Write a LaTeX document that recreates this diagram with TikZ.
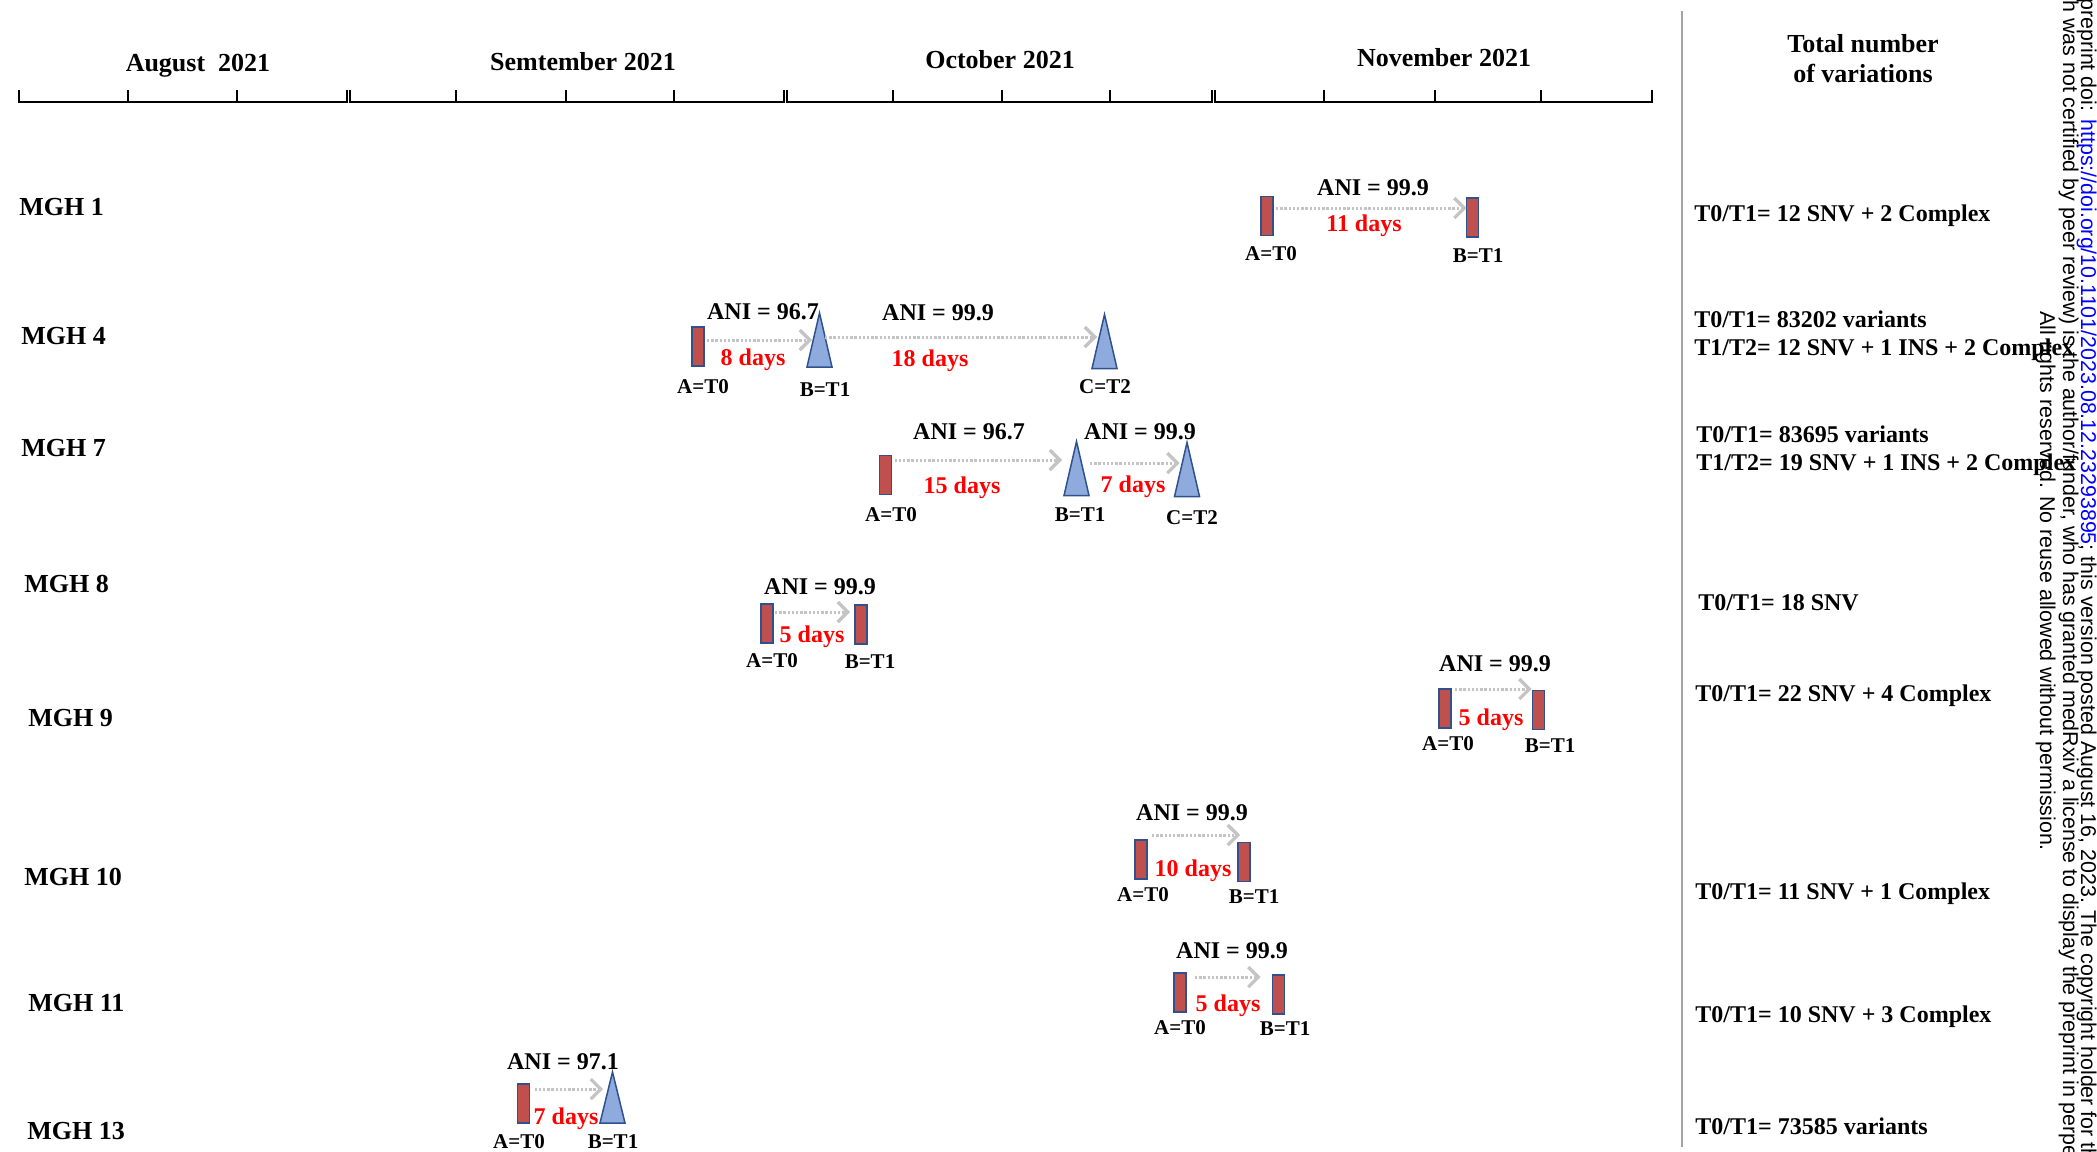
\documentclass[tikz,border=0pt]{standalone}
\usepackage{fontspec}
\setmainfont{Liberation Serif}
\newfontfamily\wmfont{Liberation Sans}
\usetikzlibrary{arrows.meta,calc}
\definecolor{recc}{RGB}{192,80,77}
\definecolor{bordc}{RGB}{47,82,143}
\definecolor{tric}{RGB}{143,170,220}
\definecolor{arrc}{RGB}{196,196,196}
\definecolor{dayred}{RGB}{255,0,0}
\definecolor{sepgray}{RGB}{165,165,165}
\tikzset{
 rec/.style={draw=bordc, fill=recc, line width=0.75pt, minimum width=6pt, minimum height=19.5pt, inner sep=0pt, outer sep=0pt},
 tribox/.style={minimum width=12.5pt, minimum height=27pt, inner sep=0pt, outer sep=0pt},
 trishape/.style={draw=bordc, fill=tric, line width=0.75pt, line join=miter},
 arr/.style={draw=arrc, line width=1.5pt, dash pattern=on 1.2pt off 0.9pt, -{Straight Barb[length=5pt,width=10pt,line width=1.6pt]}},
 ani/.style={font=\fontsize{12}{14}\selectfont\bfseries, inner sep=0pt},
 days/.style={ani, text=dayred},
 tlab/.style={font=\fontsize{10.5}{12}\selectfont\bfseries, inner sep=0pt},
 rowlab/.style={font=\fontsize{13}{15}\selectfont\bfseries, inner sep=0pt, anchor=west},
 month/.style={font=\fontsize{13}{15}\selectfont\bfseries, inner sep=0pt, align=center},
 res/.style={font=\fontsize{12}{14}\selectfont\bfseries, inner sep=0pt, anchor=west, align=left},
 ruler/.style={line width=1.4pt, black},
 tickm/.style={line width=0.6pt, black},
 wm/.style={font=\wmfont\fontsize{10.7}{12}\selectfont, inner sep=0pt, rotate=-90, anchor=base west},
}
\begin{document}
\begin{tikzpicture}[x=0.5pt,y=-0.5pt]
\useasboundingbox (0,0) rectangle (2097,1151);
\fill[white] (0,0) rectangle (2097,1151);
\clip (0,0) rectangle (2097,1151);

% month rulers
\draw[ruler] (19,102) -- (347,102);
\draw[ruler] (350,102) -- (784,102);
\draw[ruler] (787,102) -- (1212,102);
\draw[ruler] (1215,102) -- (1652,102);
\foreach \x in {19,128,237,347,350,456,566,674,784,787,893,1002,1110,1212,1215,1324,1435,1541,1652}
  \draw[tickm] (\x,90) -- (\x,102.5);

\node[month] (mAug) at (198,66) {August\ \ 2021};
\node[month] (mSep) at (583,62) {Semtember 2021};
\node[month] (mOct) at (1000,60) {October 2021};
\node[month] (mNov) at (1444,58) {November 2021};
\node[month] (mTot) at (1863,59) {Total number\\of variations};

\draw[sepgray, line width=1pt] (1682,11) -- (1682,1147);

% row labels
\node[rowlab] (r1) at (19,207) {MGH 1};
\node[rowlab] (r4) at (21,336) {MGH 4};
\node[rowlab] (r7) at (21,448) {MGH 7};
\node[rowlab] (r8) at (24,584) {MGH 8};
\node[rowlab] (r9) at (28,718) {MGH 9};
\node[rowlab] (r10) at (24,877) {MGH 10};
\node[rowlab] (r11) at (28,1003) {MGH 11};
\node[rowlab] (r13) at (27,1131) {MGH 13};

% results column
\node[res] (v1) at (1694,216) {T0/T1= 12 SNV + 2 Complex};
\node[res] (v4) at (1694,336) {T0/T1= 83202 variants\\T1/T2= 12 SNV + 1 INS + 2 Complex};
\node[res] (v7) at (1696,451) {T0/T1= 83695 variants\\T1/T2= 19 SNV + 1 INS + 2 Complex};
\node[res] (v8) at (1698,603) {T0/T1= 18 SNV};
\node[res] (v9) at (1695,696) {T0/T1= 22 SNV + 4 Complex};
\node[res] (v10) at (1695,894) {T0/T1= 11 SNV + 1 Complex};
\node[res] (v11) at (1695,1017) {T0/T1= 10 SNV + 3 Complex};
\node[res] (v13) at (1695,1126) {T0/T1= 73585 variants};

% ---------- MGH 1
\node[rec] (a1) at (1267,216) {};
\node[rec] (b1) at (1472.5,217.5) {};
\draw[arr] ($(a1.east |- 0,208)+(3,0)$) -- (b1.west |- 0,208);
\node[ani] (n1) at (1373,188) {ANI = 99.9};
\node[days] (d1) at (1364,226) {11 days};
\node[tlab] (la1) at (1271,254) {A=T0};
\node[tlab] (lb1) at (1478,256) {B=T1};

% ---------- MGH 4
\node[rec] (a4) at (698,346.5) {};
\node[tribox] (b4) at (819.5,340) {};
\draw[trishape] (b4.south west) -- (b4.north) -- (b4.south east) -- cycle;
\node[tribox] (c4) at (1104.5,341.5) {};
\draw[trishape] (c4.south west) -- (c4.north) -- (c4.south east) -- cycle;
\draw[arr] ($(a4.east |- 0,340)+(3,0)$) -- ($(b4.west |- 0,340)+(5,0)$);
\draw[arr] ($(b4.east |- 0,337)+(-7,0)$) -- ($(c4.west |- 0,337)+(5,0)$);
\node[ani] (n4a) at (763,312) {ANI = 96.7};
\node[ani] (n4b) at (938,313) {ANI = 99.9};
\node[days] (d4a) at (753,360) {8 days};
\node[days] (d4b) at (930,361) {18 days};
\node[tlab] (la4) at (703,387) {A=T0};
\node[tlab] (lb4) at (825,390) {B=T1};
\node[tlab] (lc4) at (1105,387) {C=T2};

% ---------- MGH 7
\node[rec] (a7) at (885.5,475) {};
\node[tribox] (b7) at (1076.5,468.5) {};
\draw[trishape] (b7.south west) -- (b7.north) -- (b7.south east) -- cycle;
\node[tribox] (c7) at (1187,469.5) {};
\draw[trishape] (c7.south west) -- (c7.north) -- (c7.south east) -- cycle;
\draw[arr] ($(a7.east |- 0,460)+(3,0)$) -- ($(b7.west |- 0,460)+(-2,0)$);
\draw[arr] ($(b7.east |- 0,463)+(1,0)$) -- ($(c7.west |- 0,463)+(5,0)$);
\node[ani] (n7a) at (969,432) {ANI = 96.7};
\node[ani] (n7b) at (1140,432) {ANI = 99.9};
\node[days] (d7a) at (962,488) {15 days};
\node[days] (d7b) at (1133,487) {7 days};
\node[tlab] (la7) at (891,515) {A=T0};
\node[tlab] (lb7) at (1080,515) {B=T1};
\node[tlab] (lc7) at (1192,518) {C=T2};

% ---------- MGH 8
\node[rec] (a8) at (767,623.5) {};
\node[rec] (b8) at (861,624.5) {};
\draw[arr] ($(a8.east |- 0,612)+(2,0)$) -- ($(b8.west |- 0,612)+(-5,0)$);
\node[ani] (n8) at (820,587) {ANI = 99.9};
\node[days] (d8) at (812,637) {5 days};
\node[tlab] (la8) at (772,661) {A=T0};
\node[tlab] (lb8) at (870,662) {B=T1};

% ---------- MGH 9
\node[rec] (a9) at (1445,708.5) {};
\node[rec] (b9) at (1538.5,710) {};
\draw[arr] ($(a9.east |- 0,689)+(4,0)$) -- ($(b9.west |- 0,689)+(-1,0)$);
\node[ani] (n9) at (1495,664) {ANI = 99.9};
\node[days] (d9) at (1491,720) {5 days};
\node[tlab] (la9) at (1448,744) {A=T0};
\node[tlab] (lb9) at (1550,746) {B=T1};

% ---------- MGH 10
\node[rec] (a10) at (1141,859.5) {};
\node[rec] (b10) at (1244,862) {};
\draw[arr] ($(a10.east |- 0,835)+(5,0)$) -- ($(b10.west |- 0,835)+(2,0)$);
\node[ani] (n10) at (1192,813) {ANI = 99.9};
\node[days] (d10) at (1193,871) {10 days};
\node[tlab] (la10) at (1143,895) {A=T0};
\node[tlab] (lb10) at (1254,897) {B=T1};

% ---------- MGH 11
\node[rec] (a11) at (1180,992.5) {};
\node[rec] (b11) at (1278.5,994.5) {};
\draw[arr] ($(a11.east |- 0,977)+(9,0)$) -- ($(b11.west |- 0,977)+(-12,0)$);
\node[ani] (n11) at (1232,951) {ANI = 99.9};
\node[days] (d11) at (1228,1006) {5 days};
\node[tlab] (la11) at (1180,1028) {A=T0};
\node[tlab] (lb11) at (1285,1029) {B=T1};

% ---------- MGH 13
\node[rec] (a13) at (523.5,1103.5) {};
\node[tribox, minimum height=25.5pt] (b13) at (612.5,1097.5) {};
\draw[trishape] (b13.south west) -- (b13.north) -- (b13.south east) -- cycle;
\draw[arr] ($(a13.east |- 0,1089)+(5,0)$) -- ($(b13.west |- 0,1089)+(3,0)$);
\node[ani] (n13) at (563,1062) {ANI = 97.1};
\node[days] (d13) at (566,1119) {7 days};
\node[tlab] (la13) at (519,1142) {A=T0};
\node[tlab] (lb13) at (613,1142) {B=T1};

% ---------- medRxiv watermark
\node[wm] (w1) at (2081,-2) {\llap{medRxiv }preprint doi: \textcolor{blue}{https://doi.org/10.1101/2023.08.12.23293895}; this version posted August 16, 2023. The copyright holder for this preprint};
\node[wm] (w2) at (2063,0) {\llap{(whic}h was not certified by peer review) is the author/funder, who has granted medRxiv a license to display the preprint in perpetuity.};
\node[wm] (w3) at (2040,311) {All rights reserved. No reuse allowed without permission.};
\end{tikzpicture}
\end{document}
